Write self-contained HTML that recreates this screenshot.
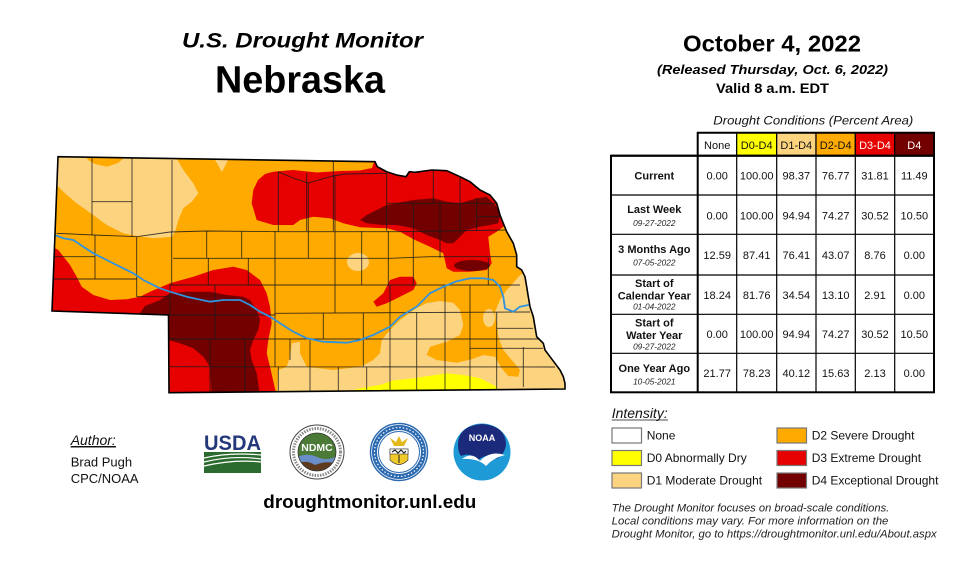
<!DOCTYPE html>
<html><head><meta charset="utf-8"><style>
html,body{margin:0;padding:0;background:#fff;}
svg{display:block;}
text{font-family:"Liberation Sans",Arial,sans-serif;}
</style></head><body>
<svg width="960" height="571" viewBox="0 0 960 571" xmlns="http://www.w3.org/2000/svg">
<rect width="960" height="571" fill="#fff"/>
<defs>
<clipPath id="ne"><path d="M58,156.7 L375,161.7 L377.3,166.7 L386.7,171.7 L396.7,175 L406,176.7 L409.3,171.7 L415,172.3 L431.7,170 L446.7,170.7 L460,176.7 L470,181.7 L480,190 L490,195 L496.7,203.3 L500,215 L503.3,223.3 L506.7,231.7 L513.3,243.3 L516.7,255 L516.7,266.7 L521.7,270 L525,276.7 L526.7,286.7 L528.3,296.7 L530,306.7 L533.3,316.7 L535,326.7 L536.7,336.7 L543.3,343.3 L545,350 L550,356.7 L555,363.3 L560,370 L563.3,376.7 L565,383.3 L565,389 L169,392.7 L168.5,315 L52,311 Z"/></clipPath>
</defs>
<!-- Titles -->
<text x="182" y="47.3" font-size="21" font-weight="bold" font-style="italic" textLength="241" lengthAdjust="spacingAndGlyphs">U.S. Drought Monitor</text>
<text x="215" y="92.7" font-size="38" font-weight="bold" textLength="170" lengthAdjust="spacingAndGlyphs">Nebraska</text>
<text x="683" y="51.7" font-size="23" font-weight="bold" textLength="178" lengthAdjust="spacingAndGlyphs">October 4, 2022</text>
<text x="657" y="73.8" font-size="13" font-weight="bold" font-style="italic" textLength="231" lengthAdjust="spacingAndGlyphs">(Released Thursday, Oct. 6, 2022)</text>
<text x="716" y="93" font-size="13.5" font-weight="bold" textLength="113" lengthAdjust="spacingAndGlyphs">Valid 8 a.m. EDT</text>

<!-- MAP -->
<g clip-path="url(#ne)">
<rect x="40" y="140" width="540" height="260" fill="#FFAA00"/>
<!-- D1 NW -->
<path fill="#FCD37F" d="M50,150 L82,150 L88,160 L95,164 L106.7,166.7 L118,163 L124,158 L127,150 L171.7,150 L183.3,170 L193.3,183.3 L198.3,193.3 L191.7,201.7 L183.3,208.3 L178.3,220 L175,231.7 L171.7,236.7 L153.3,238.3 L136.7,236 L123.3,233.3 L106.7,225 L93.3,215 L76.7,203.3 L65,193.3 L58.3,186.7 L50,186.7 Z"/>
<path fill="#FCD37F" d="M214,158 L229,158 L222,172 Z"/>
<ellipse cx="358" cy="262" rx="11" ry="9" fill="#FCD37F"/>
<ellipse cx="489" cy="318" rx="6" ry="9" fill="#FCD37F"/>
<!-- D1 SE -->
<path fill="#FCD37F" d="M276.7,400 L278.3,370 L286.7,366.7 L290,356.7 L291.7,343.3 L300,341.7 L300,353.3 L306.7,366.7 L333.3,370 L360,366.7 L373.3,360 L380,353.3 L381.7,340 L390,330 L400,320 L416.7,308 L426.7,303 L440,301 L453.3,302.7 L460,310 L463.3,325 L460,335 L446.7,341.7 L430,346.7 L426.7,355 L436.7,360 L456.7,362.7 L471.7,359.3 L483.3,355 L495,356.7 L501.7,368.3 L508.3,376 L518.3,376.7 L520,370 L511.7,360 L503.3,350 L498.3,336.7 L496.7,325 L495,311.7 L500,300 L506.7,290 L513.3,283 L520,275 L530,270 L580,270 L580,400 Z"/>
<!-- D0 -->
<path fill="#FFFF00" d="M350,396 L353,390 L362,388 L380,385 L393.3,380.5 L413.3,378.3 L446.7,373.3 L463.3,375 L480,378.3 L496.7,386.7 L502,396 Z"/>
<!-- D3 north -->
<path fill="#E60000" d="M251.7,203.3 L253.3,190 L258,180 L265,174 L273.3,171.7 L293.3,170 L316.7,172.5 L340,171 L360,170.5 L372,168 L378,150 L600,150 L600,226.7 L503.3,226.7 L496.7,231.7 L488.3,236.7 L490,253.3 L491.7,263.3 L486.7,270 L470,271.7 L453.3,271.7 L446.7,268.3 L443.3,253.3 L430,246.7 L415,240 L400,231.7 L386.7,228.3 L360,227.3 L343.3,223.3 L330,218.3 L313.3,216.7 L300,220 L293.3,225 L273.3,225 L256.7,220 Z"/>
<!-- D3 SW -->
<path fill="#E60000" d="M40,246.7 L52,246.7 L58.3,250 L70,265 L76.7,276.7 L81.7,286.7 L93.3,295 L110,300 L126.7,299.3 L140,296.7 L150,291.7 L170,283.3 L193.3,276.7 L213.3,270 L233.3,266.7 L246.7,270 L260,280 L266.7,293.3 L270,306.7 L271.7,323.3 L268.3,340 L266.7,353.3 L270,366.7 L276.7,396 L40,396 Z"/>
<!-- D3 center blob -->
<path fill="#E60000" d="M390,280 L400,276.7 L413.3,276.7 L416.7,283.3 L413.3,290 L400,296.7 L386.7,303.3 L376.7,306.7 L373.3,301.7 L383.3,293.3 Z"/>
<!-- D4 NE -->
<path fill="#730000" d="M360,220 L366.7,215 L386.7,205 L413.3,200 L433.3,198.3 L446.7,201.7 L460,203.3 L476.7,198.3 L486.7,196.7 L496.7,206.7 L500,215 L498.3,223.3 L490,225 L480,226.7 L466.7,230 L460,236.7 L453.3,243.3 L446.7,243.3 L440,240 L426.7,235 L413.3,228.3 L396.7,225 L383.3,225 L366.7,223.3 Z"/>
<ellipse cx="472" cy="265.5" rx="18" ry="5.5" fill="#730000"/>
<!-- D4 SW -->
<path fill="#730000" d="M140,313 L145,306 L160,300 L170,293.3 L186.7,291.7 L210,291.7 L226.7,295 L243.3,296.7 L250,300 L256.7,310 L260,320 L258.3,330 L253.3,340 L250,350 L251.7,360 L256.7,373.3 L260,396 L211.7,396 L210,366.7 L203.3,356.7 L193.3,348.3 L180,343.3 L168.3,340 Z"/>
<!-- County lines -->
<g fill="none" stroke="#1a1a1a" stroke-width="0.9" stroke-opacity="0.85">
<polyline points="56.7,233.3 93.3,235 136.7,236.7 170,232 206.7,231 280,231.7 400,231.7 506,230"/>
<polyline points="53,256.7 95,256.7"/>
<polyline points="173,258.3 390,258.3 430,256.7 516,256.7"/>
<polyline points="53,279 136.7,279"/>
<polyline points="136.7,296.7 170,296.7"/>
<polyline points="170,285 520,285"/>
<polyline points="168,315 275,315 275,313.3 530,312"/>
<polyline points="168,339 540,339"/>
<polyline points="168,366.7 555,367"/>
<polyline points="92,201.7 132,201.7"/>
<polyline points="278,171.7 293,178 308,183 333,176 345,174 386.7,173.3"/>
<polyline points="386.7,203.3 500,203.3"/>
<polyline points="476.7,216.7 503,216.7"/>
<polyline points="496.7,328.3 533,328.3"/>
<polyline points="470,348.3 543,348.3"/>
<path d="M92,157V235 M132,158V236.7 M172,160V232 M278.3,171.7V231.7 M308.3,183V258 M335,175V313 M95,235V279 M136.7,236.7V296.7 M171.7,232V285 M206.7,231V258 M208.3,258V285 M241.7,231V258 M248.3,258V285 M275,231V367 M361.7,231V285 M388.3,231V285 M390,285V392 M170,285V315 M215,285V339 M210,339V392 M245,339V392 M278.3,367V392 M290,339V360 M310,339V392 M323.3,313V339 M338.3,367V392 M363.3,313V367 M366.7,367V392 M306.7,173V231 M333.3,161V231 M386.7,173V231 M413.3,203V285 M433.3,170V203 M440,203V258 M460,176V231 M476.7,198V231 M470,285V392 M488.3,258V285 M416.7,312V392 M445,287V392 M496.7,312V390 M523.3,347V387"/>
</g>
<!-- River -->
<polyline fill="none" stroke="#2F93E0" stroke-width="1.8" points="55,235 63.3,238.3 73.3,240 83.3,246.7 93.3,253.3 106.7,260 120,266.7 133.3,273.3 143.3,280 156.7,286.7 160,288.3 170,291.7 186.7,296.7 210,301.7 223.3,300 240,300 250,305 260,311.7 270,316.7 280,323.3 293.3,331.7 306.7,338.3 323.3,341.7 346.7,342.7 360,340 373.3,335 390,326.7 400,316.7 416.7,306.7 430,293.3 443.3,286.7 456,281.5 470,278.3 483.3,278.3 493.3,280 500,286.7 503.3,296.7 505,308.3 513.3,311.7 520,306.7 528.3,305 535,305"/>
</g>
<!-- State outline -->
<path fill="none" stroke="#000" stroke-width="1.6" d="M58,156.7 L375,161.7 L377.3,166.7 L386.7,171.7 L396.7,175 L406,176.7 L409.3,171.7 L415,172.3 L431.7,170 L446.7,170.7 L460,176.7 L470,181.7 L480,190 L490,195 L496.7,203.3 L500,215 L503.3,223.3 L506.7,231.7 L513.3,243.3 L516.7,255 L516.7,266.7 L521.7,270 L525,276.7 L526.7,286.7 L528.3,296.7 L530,306.7 L533.3,316.7 L535,326.7 L536.7,336.7 L543.3,343.3 L545,350 L550,356.7 L555,363.3 L560,370 L563.3,376.7 L565,383.3 L565,389 L169,392.7 L168.5,315 L52,311 Z"/>

<!-- Author -->
<text x="70.7" y="445" font-size="14" font-style="italic" fill="#111" text-decoration="underline">Author:</text>
<line x1="70.7" y1="447" x2="116" y2="447" stroke="#111" stroke-width="0.8"/>
<text x="70.7" y="466.7" font-size="13" fill="#111">Brad Pugh</text>
<text x="70.7" y="483" font-size="13" fill="#111">CPC/NOAA</text>

<!-- USDA logo -->
<text x="204" y="450" font-size="21" font-weight="bold" fill="#25397A" textLength="57" lengthAdjust="spacingAndGlyphs">USDA</text>
<rect x="204" y="452" width="57" height="21" fill="#2C6B2F"/>
<path d="M204,458 Q230,452 261,455 M204,462 Q232,455 261,459 M204,466 Q234,459 261,462" fill="none" stroke="#fff" stroke-width="1.2"/>

<!-- NDMC logo -->
<circle cx="317" cy="452" r="27" fill="#fff" stroke="#444" stroke-width="1"/>
<circle cx="317" cy="452" r="23.5" fill="none" stroke="#888" stroke-width="3" stroke-dasharray="1.5 1.2"/>
<clipPath id="ndc"><circle cx="317" cy="452" r="19"/></clipPath>
<g clip-path="url(#ndc)">
<rect x="297" y="432" width="40" height="40" fill="#4A7A35"/>
<path d="M296,458 Q306,452 317,457 Q328,462 338,455 L338,475 L296,475 Z" fill="#6A8FC8"/>
<path d="M296,464 Q306,459 315,465 Q326,460 338,464 L338,475 L296,475 Z" fill="#5E3B1F"/>
</g>
<circle cx="317" cy="452" r="19" fill="none" stroke="#333" stroke-width="0.8"/>
<text x="317" y="451" font-size="10.5" font-weight="bold" fill="#fff" text-anchor="middle">NDMC</text>

<!-- DOC seal -->
<circle cx="399" cy="452" r="28.5" fill="#fff" stroke="#2B69B0" stroke-width="1.5"/>
<circle cx="399" cy="452" r="24.5" fill="none" stroke="#2B69B0" stroke-width="5"/>
<circle cx="399" cy="452" r="24.5" fill="none" stroke="#fff" stroke-width="1.2" stroke-dasharray="1.5 2"/>
<circle cx="399" cy="452" r="20.5" fill="#fff" stroke="#2B69B0" stroke-width="1"/>
<path d="M390,438 L396,442 L399,436 L402,442 L408,438 L404,446 L394,446 Z" fill="#E2B91A"/>
<path d="M390,449 L408,449 L408,460 Q399,469 390,460 Z" fill="#F0C92A" stroke="#333" stroke-width="0.6"/>
<rect x="390" y="449" width="18" height="5" fill="#fff" stroke="#333" stroke-width="0.6"/>
<path d="M392,452 L395,450 L398,453 L401,450 L404,453 L406,451" fill="none" stroke="#222" stroke-width="1.2"/>
<line x1="399" y1="455" x2="399" y2="463" stroke="#222" stroke-width="1"/>

<!-- NOAA -->
<circle cx="482" cy="452" r="28.5" fill="#1E9AD6"/>
<path d="M458,445 Q458,426 482,424 Q506,426 506,445 Q504,456 496,459 Q488,452 478,460 Q470,452 461,456 Q458,452 458,445 Z" fill="#1B2A7A"/>
<path d="M462,459 Q472,451 480,461 Q490,450 505,455 Q493,458 486,466 Q478,458 462,459 Z" fill="#fff"/>
<text x="482" y="441" font-size="9" font-weight="bold" fill="#fff" text-anchor="middle">NOAA</text>

<text x="263.3" y="508" font-size="18.5" font-weight="bold" fill="#000" textLength="213" lengthAdjust="spacingAndGlyphs">droughtmonitor.unl.edu</text>

<!-- TABLE -->
<text x="713.3" y="124.5" font-size="11.5" font-style="italic" fill="#111" textLength="200" lengthAdjust="spacingAndGlyphs">Drought Conditions (Percent Area)</text>
<g stroke="#000" stroke-width="1.2">
<rect x="697.7" y="132.7" width="39" height="23" fill="#fff"/>
<rect x="736.7" y="132.7" width="40" height="23" fill="#FFFF00"/>
<rect x="776.7" y="132.7" width="39.3" height="23" fill="#FCD37F"/>
<rect x="816" y="132.7" width="39.3" height="23" fill="#FFAA00"/>
<rect x="855.3" y="132.7" width="39.4" height="23" fill="#E60000"/>
<rect x="894.7" y="132.7" width="39.3" height="23" fill="#730000"/>
</g>
<line x1="697" y1="132.7" x2="934.7" y2="132.7" stroke="#000" stroke-width="2"/>
<line x1="934" y1="132" x2="934" y2="156" stroke="#000" stroke-width="2"/>
<line x1="697.7" y1="132" x2="697.7" y2="156" stroke="#000" stroke-width="2"/>
<g font-size="11" text-anchor="middle" fill="#111">
<text x="717.2" y="149">None</text>
<text x="756.7" y="149">D0-D4</text>
<text x="796.3" y="149">D1-D4</text>
<text x="835.7" y="149">D2-D4</text>
<text x="875" y="149" fill="#fff">D3-D4</text>
<text x="914.3" y="149" fill="#fff">D4</text>
</g>
<rect x="611" y="155.7" width="323" height="236.6" fill="#fff" stroke="#000" stroke-width="2"/>
<g stroke="#000" stroke-width="1.2">
<line x1="611" y1="195" x2="934" y2="195"/>
<line x1="611" y1="234.3" x2="934" y2="234.3"/>
<line x1="611" y1="275" x2="934" y2="275"/>
<line x1="611" y1="314.3" x2="934" y2="314.3"/>
<line x1="611" y1="353.3" x2="934" y2="353.3"/>
<line x1="697.7" y1="155.7" x2="697.7" y2="392.3" stroke-width="2"/>
<line x1="736.7" y1="155.7" x2="736.7" y2="392.3"/>
<line x1="776.7" y1="155.7" x2="776.7" y2="392.3"/>
<line x1="816" y1="155.7" x2="816" y2="392.3"/>
<line x1="855.3" y1="155.7" x2="855.3" y2="392.3"/>
<line x1="894.7" y1="155.7" x2="894.7" y2="392.3"/>
</g>
<line x1="611" y1="155.7" x2="934" y2="155.7" stroke="#000" stroke-width="2"/>
<g font-size="11" font-weight="bold" text-anchor="middle" fill="#111">
<text x="654.3" y="179.5">Current</text>
<text x="654.3" y="213">Last Week</text>
<text x="654.3" y="253">3 Months Ago</text>
<text x="654.3" y="287">Start of</text>
<text x="654.3" y="299.5">Calendar Year</text>
<text x="654.3" y="326.5">Start of</text>
<text x="654.3" y="339">Water Year</text>
<text x="654.3" y="372">One Year Ago</text>
</g>
<g font-size="8.3" font-style="italic" text-anchor="middle" fill="#222">
<text x="654.3" y="226">09-27-2022</text>
<text x="654.3" y="265.5">07-05-2022</text>
<text x="654.3" y="309.5">01-04-2022</text>
<text x="654.3" y="349.5">09-27-2022</text>
<text x="654.3" y="384.5">10-05-2021</text>
</g>
<g font-size="11" text-anchor="middle" fill="#111">
<text x="717.2" y="179.5">0.00</text><text x="756.7" y="179.5">100.00</text><text x="796.3" y="179.5">98.37</text><text x="835.7" y="179.5">76.77</text><text x="875" y="179.5">31.81</text><text x="914.3" y="179.5">11.49</text>
<text x="717.2" y="219.5">0.00</text><text x="756.7" y="219.5">100.00</text><text x="796.3" y="219.5">94.94</text><text x="835.7" y="219.5">74.27</text><text x="875" y="219.5">30.52</text><text x="914.3" y="219.5">10.50</text>
<text x="717.2" y="259">12.59</text><text x="756.7" y="259">87.41</text><text x="796.3" y="259">76.41</text><text x="835.7" y="259">43.07</text><text x="875" y="259">8.76</text><text x="914.3" y="259">0.00</text>
<text x="717.2" y="299">18.24</text><text x="756.7" y="299">81.76</text><text x="796.3" y="299">34.54</text><text x="835.7" y="299">13.10</text><text x="875" y="299">2.91</text><text x="914.3" y="299">0.00</text>
<text x="717.2" y="338">0.00</text><text x="756.7" y="338">100.00</text><text x="796.3" y="338">94.94</text><text x="835.7" y="338">74.27</text><text x="875" y="338">30.52</text><text x="914.3" y="338">10.50</text>
<text x="717.2" y="377">21.77</text><text x="756.7" y="377">78.23</text><text x="796.3" y="377">40.12</text><text x="835.7" y="377">15.63</text><text x="875" y="377">2.13</text><text x="914.3" y="377">0.00</text>
</g>

<!-- LEGEND -->
<text x="611.7" y="418" font-size="14" font-style="italic" fill="#111">Intensity:</text>
<line x1="611.7" y1="420" x2="668" y2="420" stroke="#111" stroke-width="0.8"/>
<g stroke="#777" stroke-width="1.2">
<rect x="612" y="428" width="29.5" height="15" fill="#fff"/>
<rect x="612" y="450.5" width="29.5" height="15" fill="#FFFF00"/>
<rect x="612" y="473" width="29.5" height="15" fill="#FCD37F"/>
<rect x="777" y="428" width="29.5" height="15" fill="#FFAA00"/>
<rect x="777" y="450.5" width="29.5" height="15" fill="#E60000"/>
<rect x="777" y="473" width="29.5" height="15" fill="#730000"/>
</g>
<g font-size="12" fill="#111">
<text x="646.7" y="439.7">None</text>
<text x="646.7" y="462">D0 Abnormally Dry</text>
<text x="646.7" y="484.5">D1 Moderate Drought</text>
<text x="811.7" y="439.7">D2 Severe Drought</text>
<text x="811.7" y="462">D3 Extreme Drought</text>
<text x="811.7" y="484.5">D4 Exceptional Drought</text>
</g>
<g font-size="11" font-style="italic" fill="#222">
<text x="611.7" y="511.7" textLength="277.6" lengthAdjust="spacingAndGlyphs">The Drought Monitor focuses on broad-scale conditions.</text>
<text x="611.7" y="524.5" textLength="276.7" lengthAdjust="spacingAndGlyphs">Local conditions may vary. For more information on the</text>
<text x="611.7" y="537.5" textLength="325" lengthAdjust="spacingAndGlyphs">Drought Monitor, go to https://droughtmonitor.unl.edu/About.aspx</text>
</g>
</svg>
</body></html>
